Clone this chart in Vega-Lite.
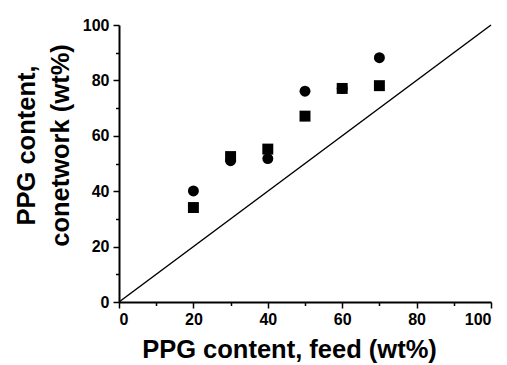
{
  "$schema": "https://vega.github.io/schema/vega-lite/v6.json",
  "width": 372,
  "height": 277,
  "autosize": {"type": "none"},
  "padding": {"left": 119, "top": 25, "right": 16, "bottom": 63},
  "background": "white",
  "config": {
    "view": {"stroke": null},
    "axis": {
      "grid": false,
      "domainColor": "#000000",
      "domainWidth": 2,
      "tickColor": "#000000",
      "tickWidth": 1.5,
      "labelColor": "#000000",
      "labelFont": "Liberation Sans",
      "labelFontWeight": "bold",
      "labelFontSize": 16,
      "titleColor": "#000000",
      "titleFont": "Liberation Sans",
      "titleFontWeight": "bold",
      "titleFontSize": 25.5,
      "titleLineHeight": 34
    }
  },
  "datasets": {
    "pts": [
      {"feed": 20, "net": 40.1, "series": "circle"},
      {"feed": 30, "net": 51, "series": "circle"},
      {"feed": 40, "net": 51.8, "series": "circle"},
      {"feed": 50, "net": 76.1, "series": "circle"},
      {"feed": 60, "net": 77.1, "series": "circle"},
      {"feed": 70, "net": 88.2, "series": "circle"},
      {"feed": 20, "net": 34.1, "series": "square"},
      {"feed": 30, "net": 52.5, "series": "square"},
      {"feed": 40, "net": 55.2, "series": "square"},
      {"feed": 50, "net": 67.1, "series": "square"},
      {"feed": 60, "net": 77.1, "series": "square"},
      {"feed": 70, "net": 78.1, "series": "square"}
    ],
    "diag": [
      {"feed": 0, "net": 0},
      {"feed": 100, "net": 100}
    ]
  },
  "layer": [
    {
      "data": {"name": "diag"},
      "mark": {"type": "line", "color": "black", "strokeWidth": 1.5},
      "encoding": {
        "x": {"field": "feed", "type": "quantitative", "scale": {"domain": [0, 100], "nice": false},
          "axis": {"orient": "bottom", "values": [10, 30, 50, 70, 90], "labels": false, "tickSize": 3.5, "domain": false, "title": null}},
        "y": {"field": "net", "type": "quantitative", "scale": {"domain": [0, 100], "nice": false},
          "axis": {"orient": "left", "values": [10, 30, 50, 70, 90], "labels": false, "tickSize": 3.5, "domain": false, "title": null}}
      }
    },
    {
      "data": {"name": "pts"},
      "mark": {"type": "point", "filled": true, "color": "black", "opacity": 1, "size": 120},
      "encoding": {
        "x": {"field": "feed", "type": "quantitative",
          "axis": {"orient": "bottom", "values": [0, 20, 40, 60, 80, 100], "tickSize": 6, "labelPadding": 3, "title": "PPG content, feed (wt%)", "titlePadding": 10, "titleX": 170}},
        "y": {"field": "net", "type": "quantitative",
          "axis": {"orient": "left", "values": [0, 20, 40, 60, 80, 100], "tickSize": 6, "labelPadding": 4, "title": ["PPG content,", "conetwork (wt%)"], "titlePadding": 9, "titleY": 120}},
        "shape": {"field": "series", "type": "nominal", "scale": {"domain": ["circle", "square"], "range": ["circle", "square"]}, "legend": null}
      }
    }
  ],
  "resolve": {"axis": {"x": "independent", "y": "independent"}}
}
